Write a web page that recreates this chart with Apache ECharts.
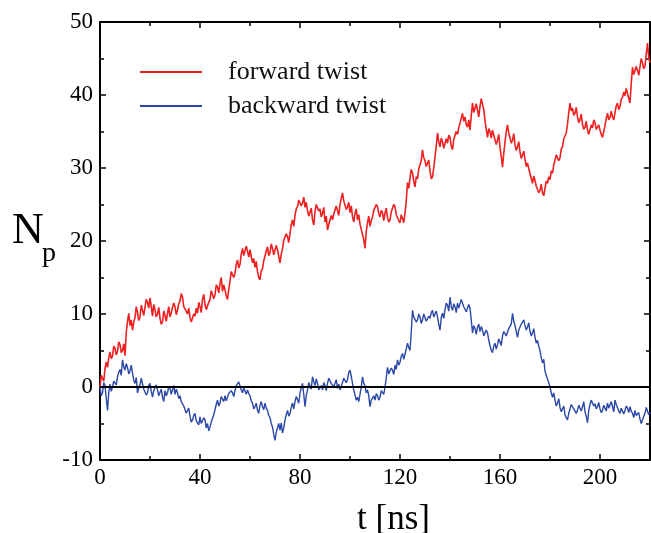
<!DOCTYPE html>
<html>
<head>
<meta charset="utf-8">
<script src="https://cdn.jsdelivr.net/npm/echarts@6/dist/echarts.min.js"></script>
<style>html,body{margin:0;padding:0;background:#fff}#c{width:651px;height:533px}</style>
</head>
<body>
<div id="c"></div>
<script>
// samples every 0.5 ns, t = 0 ... 220
var timeStep = 0.5;

var forwardTwist = [
  0, 1.6, 1.2, 0.8, 2.5, 3.4, 2.7, 4.0, 4.8, 3.9, 4.2, 5.6, 5.3, 4.4, 4.9, 6.2, 5.8, 4.7, 5.0, 5.9,
  4.3, 7.5, 9.0, 10.1, 8.4, 9.2, 7.8, 8.9, 9.5, 11.0, 10.2, 9.1, 9.6, 11.2, 10.5, 9.8, 10.9, 12.0, 11.6, 10.8,
  12.2, 11.0, 9.7, 11.3, 10.6, 9.6, 10.0, 10.9, 9.4, 8.6, 8.9, 10.4, 9.8, 9.0, 10.1, 11.0, 9.6, 10.2, 10.4, 11.5,
  11.0, 9.9, 10.5, 11.4, 11.8, 12.8, 12.3, 11.0, 11.2, 10.4, 10.0, 10.8, 9.5, 8.9, 8.8, 10.0, 9.7, 10.8, 10.1, 11.6,
  11.0, 10.2, 12.0, 12.7, 11.3, 10.6, 10.5, 11.6, 12.0, 13.2, 13.0, 12.1, 12.6, 14.0, 13.7, 12.9, 14.2, 15.0, 13.1, 14.0,
  13.3, 12.5, 12.0, 13.4, 14.5, 15.8, 16.0, 15.0, 15.6, 16.8, 17.4, 16.3, 16.8, 18.2, 19.0, 18.0, 18.2, 19.3, 18.6, 17.8,
  18.8, 17.9, 17.0, 17.6, 16.4, 17.2, 15.8, 15.0, 14.7, 15.9, 16.2, 17.3, 17.5, 18.6, 19.2, 18.0, 18.4, 19.6, 19.0, 18.1,
  18.3, 19.4, 18.8, 17.9, 17.0, 18.2, 18.9, 20.1, 20.0, 21.0, 20.6, 19.8, 21.0, 22.2, 22.9, 22.0, 23.5, 24.4, 24.7, 25.6,
  25.6, 24.8, 25.2, 26.0, 24.6, 25.3, 24.2, 23.4, 23.6, 24.5, 22.9, 22.2, 24.0, 25.0, 25.2, 24.1, 24.4, 23.3, 23.8, 24.6,
  22.6, 23.4, 21.5, 22.3, 22.4, 23.5, 22.9, 23.7, 23.6, 24.8, 24.2, 23.5, 25.0, 25.8, 26.6, 25.5, 25.4, 24.3, 24.7, 25.3,
  23.9, 24.8, 23.3, 22.6, 23.8, 24.4, 22.9, 23.6, 22.3, 21.6, 21.5, 20.2, 19.0, 21.3, 22.5, 23.4, 22.0, 22.8, 23.3, 24.2,
  24.0, 25.0, 24.7, 23.8, 23.3, 24.2, 23.9, 22.8, 23.8, 24.5, 23.2, 22.6, 22.9, 24.0, 23.8, 25.0, 24.7, 23.6, 23.6, 22.8,
  22.5, 23.6, 23.1, 22.5, 23.8, 25.5, 28.0, 27.2, 28.6, 29.8, 29.3, 28.2, 27.4, 28.8, 28.5, 29.9, 29.7, 31.0, 32.5, 31.4,
  31.0, 30.2, 30.0, 31.1, 29.6, 28.5, 28.8, 30.0, 31.5, 33.0, 34.8, 33.6, 32.9, 34.1, 33.6, 32.7, 32.8, 34.0, 33.4, 34.5,
  34.2, 33.0, 32.5, 33.9, 33.8, 35.0, 34.6, 35.5, 35.6, 36.8, 37.5, 36.4, 37.0, 35.9, 35.6, 36.6, 35.2, 37.2, 38.9, 37.6,
  37.8, 38.8, 37.9, 37.0, 38.4, 39.5, 39.3, 38.0, 36.5, 35.3, 34.2, 35.4, 35.0, 34.1, 35.2, 34.5, 34.4, 33.2, 33.8, 34.6,
  32.8, 31.6, 30.1, 32.0, 33.5, 35.0, 35.9, 34.8, 34.6, 33.4, 33.8, 34.7, 33.2, 32.4, 32.9, 33.6, 32.2, 31.3, 31.5, 32.3,
  31.2, 30.2, 30.7, 29.9, 29.7, 28.6, 27.9, 28.9, 28.3, 27.5, 27.4, 26.6, 26.9, 27.8, 26.6, 26.2, 27.2, 28.2, 27.9, 28.8,
  28.4, 29.6, 29.3, 30.4, 30.6, 31.8, 32.0, 31.0, 31.4, 32.6, 32.9, 34.0, 33.8, 34.8, 36.0, 37.6, 38.9, 37.8, 38.2, 37.2,
  37.5, 38.3, 37.0, 36.2, 36.6, 37.4, 36.0, 35.3, 35.6, 36.4, 35.2, 34.6, 34.8, 35.9, 35.5, 36.6, 36.2, 35.3, 35.6, 35.9,
  35.2, 34.6, 34.2, 35.0, 35.8, 36.8, 37.5, 36.6, 36.9, 37.8, 37.0, 36.6, 37.6, 38.5, 38.9, 38.0, 38.4, 39.4, 39.7, 40.4,
  39.9, 40.9, 40.7, 39.5, 38.9, 41.6, 43.8, 42.8, 43.0, 43.9, 43.4, 42.7, 43.9, 45.0, 44.4, 43.6, 44.0, 45.6, 47.1, 45.2,
  44.4
];

var backwardTwist = [
  0, -1.2, -0.8, 0.6, 0.2, -1.5, -3.2, -0.8, 0.4, -0.6, 0.0, 0.8, 1.0, 0.3, 1.4, 2.0, 2.4, 1.6, 3.7, 2.8,
  2.3, 3.2, 2.7, 1.8, 2.2, 3.0, 1.9, 0.9, 0.5, 1.3, -0.8, -0.1, 0.3, 1.2, 1.0, -0.3, -0.2, -1.1, -0.8, 0.2,
  0.5, -0.6, -1.4, -0.5, -0.6, 0.3, -0.4, -1.2, -1.0, -0.3, -1.4, -2.0, -0.5, -1.2, -0.8, 0.1, -0.2, -1.0, -0.4, 0.2,
  -1.0, -0.3, -0.8, -1.6, -1.2, -2.0, -1.8, -2.6, -2.8, -3.6, -3.6, -2.9, -4.0, -4.8, -4.5, -3.9, -3.6, -4.6, -4.4, -5.2,
  -4.1, -5.0, -4.8, -4.2, -4.5, -5.6, -5.0, -6.0, -5.5, -4.8, -4.6, -3.8, -3.6, -2.4, -1.8, -2.6, -2.2, -1.3, -1.4, -2.0,
  -1.2, -1.9, -1.8, -0.9, -1.0, -0.5, -0.8, -1.3, -0.5, 0.2, 0.0, 0.7, 0.5, -0.4, -0.8, -0.1, -0.2, -1.0, -0.4, -0.9,
  -1.2, -1.9, -2.2, -3.0, -2.7, -2.2, -3.2, -3.6, -2.5, -2.0, -2.7, -3.1, -2.2, -2.9, -3.2, -3.9, -4.2, -5.0, -5.5, -6.5,
  -7.3, -6.2, -6.0, -5.0, -5.9, -4.9, -6.3, -5.6, -4.5, -3.8, -3.2, -4.0, -3.6, -2.8, -2.2, -3.0, -2.0, -1.3, -1.4, -2.2,
  -0.8, -0.1, 0.5, -1.0, -2.7, -1.2, -0.4, 0.6, 0.6, -0.3, 1.4, 0.7, 0.2, 1.1, 0.5, -0.4, -0.6, 0.2, -0.4, 0.6,
  0.2, -0.5, 0.5, 1.2, 1.4, 0.5, 0.6, 0.0, 0.5, 1.0, -0.2, 0.4, -0.4, -0.2, 0.6, 1.2, 1.4, 0.6, 1.0, 2.0,
  2.3, 1.5, 0.5, -0.4, -0.6, -1.8, -1.4, -2.0, -2.2, 0.0, 1.4, 0.5, 0.2, -0.8, -0.4, -1.2, -2.7, -1.8, -2.0, -1.2,
  -1.8, -0.9, -1.2, -1.8, -1.4, -0.5, -0.6, -1.0, 0.0, 1.2, 2.7, 1.8, 1.8, 2.6, 2.3, 1.7, 3.0, 2.4, 3.7, 3.0,
  3.4, 4.2, 4.6, 3.8, 4.0, 5.2, 6.0, 5.4, 5.0, 7.5, 10.5, 9.6, 9.8, 8.9, 9.2, 10.0, 9.6, 8.7, 9.2, 10.0,
  9.8, 9.0, 8.8, 9.7, 9.4, 10.2, 10.5, 9.6, 9.8, 10.4, 9.6, 8.6, 7.8, 9.5, 10.1, 9.4, 10.6, 11.5, 11.2, 10.4,
  12.3, 11.0, 10.5, 11.4, 11.0, 10.2, 11.5, 10.8, 11.0, 12.0, 11.9, 11.0, 11.2, 10.3, 10.5, 11.3, 10.8, 9.2, 7.4, 8.4,
  8.0, 7.2, 8.2, 8.6, 7.6, 8.3, 7.8, 7.0, 7.2, 7.8, 7.4, 6.4, 6.2, 5.0, 4.7, 5.6, 6.0, 5.2, 5.8, 6.6,
  6.4, 5.7, 7.0, 7.6, 7.8, 7.0, 7.2, 8.0, 7.8, 8.6, 10.1, 9.0, 8.4, 7.6, 6.8, 7.8, 8.0, 8.6, 8.8, 9.2,
  8.4, 7.8, 8.2, 8.8, 7.6, 7.0, 7.4, 8.0, 6.8, 6.0, 6.4, 5.6, 5.0, 4.0, 3.3, 3.8, 2.2, 1.6, 1.4, 0.6,
  0.0, -0.8, -1.4, -0.8, -1.8, -2.6, -2.2, -1.6, -2.8, -3.4, -3.2, -2.6, -3.8, -4.2, -4.5, -3.6, -3.0, -2.4, -2.2, -3.0,
  -2.8, -3.6, -3.2, -2.5, -2.6, -3.3, -2.7, -2.0, -3.4, -4.0, -4.9, -3.2, -2.4, -1.8, -1.8, -2.6, -2.3, -3.0, -2.7, -2.1,
  -3.0, -3.5, -3.2, -2.5, -2.6, -3.3, -2.2, -2.9, -2.8, -2.0, -2.7, -3.4, -1.8, -2.4, -2.6, -3.3, -3.6, -2.9, -3.0, -3.7,
  -3.2, -2.6, -2.9, -3.5, -2.7, -3.3, -3.6, -4.2, -3.2, -3.9, -4.1, -3.5, -4.4, -5.0, -4.9, -4.0, -3.6, -2.8, -2.7, -3.8,
  -3.5
];

var seriesNames = ['forward twist', 'backward twist'];
var xTickLabels = ['0', '40', '80', '120', '160', '200'];
var yTickLabels = ['-10', '0', '10', '20', '30', '40', '50'];

function pairs(ys) { return ys.map(function (y, i) { return [i * timeStep, y]; }); }

var FONT = 'Liberation Serif';
var black = '#000';

function xAx(pos, interval, tickLen, showLabel, showLine) {
  return {
    type: 'value', position: pos, min: 0, max: 220, interval: interval,
    axisLine: { show: showLine, onZero: false, lineStyle: { color: black, width: 2 } },
    axisTick: { show: true, inside: true, length: tickLen, lineStyle: { color: black, width: 1.5 } },
    axisLabel: {
      show: showLabel, fontFamily: FONT, fontSize: 23, color: black, margin: 6,
      formatter: function (v) { return xTickLabels.indexOf(String(v)) >= 0 ? String(v) : ''; }
    },
    splitLine: { show: false }
  };
}
function yAx(pos, showLabel) {
  return {
    type: 'value', position: pos, min: -10, max: 50, interval: 10,
    axisLine: { show: true, onZero: false, lineStyle: { color: black, width: 2 } },
    axisTick: { show: true, inside: true, length: 6, lineStyle: { color: black, width: 1.5 } },
    minorTick: { show: true, splitNumber: 2, length: 4, lineStyle: { color: black, width: 1.5 } },
    axisLabel: {
      show: showLabel, fontFamily: FONT, fontSize: 23, color: black, margin: 7,
      formatter: function (v) { return yTickLabels.indexOf(String(v)) >= 0 ? String(v) : ''; }
    },
    splitLine: { show: false }, minorSplitLine: { show: false }
  };
}

var chart = echarts.init(document.getElementById('c'), null, { renderer: 'canvas' });
chart.setOption({
  animation: false,
  backgroundColor: '#fff',
  grid: { left: 100, right: 1, top: 22, bottom: 73, containLabel: false, outerBoundsMode: 'none' },
  xAxis: [
    xAx('bottom', 40, 6, true, true),
    xAx('bottom', 20, 4, false, false),
    xAx('top', 40, 6, false, true),
    xAx('top', 20, 4, false, false)
  ],
  yAxis: [yAx('left', true), yAx('right', false)],
  legend: {
    orient: 'vertical', left: 140, top: 59, itemGap: 8, padding: 0,
    itemWidth: 62, itemHeight: 2, icon: 'rect',
    textStyle: { fontFamily: FONT, fontSize: 26, color: '#111', lineHeight: 26, padding: [0, 0, 0, 21] },
    data: seriesNames
  },
  series: [
    {
      name: seriesNames[0], type: 'line', xAxisIndex: 0, yAxisIndex: 0,
      data: pairs(forwardTwist), showSymbol: false, symbol: 'none',
      lineStyle: { color: '#ee2020', width: 1.6 }, itemStyle: { color: '#ee2020' }, z: 3
    },
    {
      name: seriesNames[1], type: 'line', xAxisIndex: 0, yAxisIndex: 0,
      data: pairs(backwardTwist), showSymbol: false, symbol: 'none',
      lineStyle: { color: '#2b48a8', width: 1.4 }, itemStyle: { color: '#2b48a8' }, z: 3,
      markLine: {
        silent: true, symbol: 'none', label: { show: false },
        lineStyle: { color: black, type: 'solid', width: 2 },
        data: [{ yAxis: 0 }]
      }
    }
  ],
  graphic: [
    { type: 'text', left: 357, top: 502, style: { text: 't [ns]', font: '35px "Liberation Serif"', fill: black } },
    { type: 'text', left: 12, top: 209, style: { text: 'N', font: '44px "Liberation Serif"', fill: black } },
    { type: 'text', left: 42, top: 240, style: { text: 'p', font: '28px "Liberation Serif"', fill: black } }
  ]
});
</script>
</body>
</html>
